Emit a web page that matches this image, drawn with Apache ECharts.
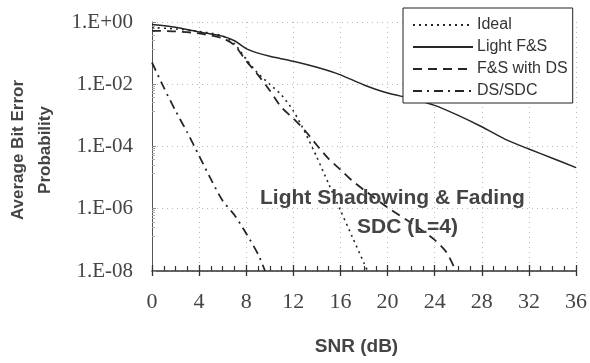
<!DOCTYPE html>
<html>
<head>
<meta charset="utf-8">
<script src="https://cdn.jsdelivr.net/npm/echarts@6/dist/echarts.min.js"></script>
<style>
  html, body { margin: 0; padding: 0; background: #fff; }
  #chart { width: 590px; height: 363px; }
</style>
</head>
<body>
<div id="chart"></div>
<script>
// SNR (dB) samples and average bit error probability for each scheme
const idealSnr = [0, 2, 4, 6, 7, 8, 9, 10, 11, 12, 13, 14, 15, 16, 17, 18, 18.3];
const idealBer = [0.66, 0.60, 0.50, 0.355, 0.20, 0.063, 0.0224, 1.0e-2, 4.5e-3, 1.4e-3, 2.8e-4, 4.5e-5, 6.3e-6, 8.9e-7, 1.26e-7, 1.8e-8, 1.0e-8];

const lightSnr = [0, 2, 4, 6, 7, 8, 9, 10, 12, 14, 16, 18, 20, 22, 24, 26, 28, 30, 32, 34, 36];
const lightBer = [0.83, 0.68, 0.48, 0.35, 0.25, 0.14, 0.10, 0.079, 0.055, 0.035, 0.020, 9.5e-3, 5.2e-3, 3.5e-3, 2.1e-3, 1.0e-3, 4.3e-4, 1.7e-4, 8.3e-5, 4.2e-5, 2.1e-5];

const dsSnr = [0, 2, 4, 6, 7, 8, 9, 10, 11, 12, 13, 14, 15, 16, 17, 18, 20, 22, 24, 25, 25.8];
const dsBer = [0.52, 0.50, 0.43, 0.30, 0.18, 0.056, 0.020, 6.3e-3, 1.8e-3, 7.9e-4, 3.2e-4, 1.1e-4, 4.0e-5, 1.8e-5, 7.9e-6, 4.0e-6, 1.1e-6, 3.5e-7, 1.0e-7, 4.0e-8, 1.0e-8];

const sdcSnr = [0, 1, 2, 3, 4, 5, 6, 7, 8, 9, 9.6];
const sdcBer = [0.05, 7.9e-3, 1.4e-3, 2.8e-4, 5.0e-5, 8.9e-6, 1.8e-6, 6.3e-7, 1.6e-7, 3.5e-8, 1.0e-8];

const seriesNames = ['Ideal', 'Light F&S', 'F&S with DS', 'DS/SDC'];
const xTicks = [0, 4, 8, 12, 16, 20, 24, 28, 32, 36];
const yTickLabels = ['1.E-08', '1.E-06', '1.E-04', '1.E-02', '1.E+00'];

const pairs = (xs, ys) => xs.map((x, i) => [x, ys[i]]);

const ink = '#262626';
const sans = '"Liberation Sans", Arial, sans-serif';
const serif = '"Liberation Serif", "Times New Roman", serif';

const chart = echarts.init(document.getElementById('chart'));

function series(name, data, dash, width) {
  return {
    name: name,
    type: 'line',
    data: data,
    symbol: 'none',
    smooth: 0.25,
    lineStyle: { color: ink, width: width, type: dash },
    itemStyle: { color: ink },
    z: 5
  };
}

const axisLineStyle = { color: '#333', width: 1.5 };

chart.setOption({
  animation: false,
  backgroundColor: '#fff',
  grid: { left: 152, right: 14, top: 22, bottom: 92, outerBoundsMode: 'none' },
  legend: {
    orient: 'vertical',
    left: 403,
    top: 8,
    itemWidth: 60,
    itemHeight: 8,
    itemGap: 6,
    padding: [9, 5, 4, 9],
    backgroundColor: '#fff',
    borderColor: '#222',
    borderWidth: 1,
    itemStyle: { opacity: 0 },
    textStyle: { fontFamily: sans, fontSize: 16, lineHeight: 13, color: '#333', padding: [0, 0, 0, -1] },
    data: seriesNames,
    z: 20
  },
  xAxis: [
    {
      type: 'value',
      min: 0, max: 36, interval: 4,
      name: 'SNR (dB)',
      nameLocation: 'middle',
      nameGap: 66,
      nameTextStyle: { fontFamily: sans, fontSize: 19, fontWeight: 'bold', color: '#444', padding: [0, 15, 0, 0] },
      axisLine: { show: true, onZero: false, lineStyle: axisLineStyle },
      axisTick: { show: true, inside: true, length: 6, lineStyle: { color: '#333', width: 1.3 } },
      minorTick: { show: true, splitNumber: 4, length: 5, lineStyle: { color: '#333', width: 1.2 } },
      axisLabel: {
        margin: 20,
        fontFamily: serif, fontSize: 22, color: '#444',
        formatter: v => (xTicks.indexOf(v) >= 0 ? String(v) : '')
      },
      splitLine: { show: true, lineStyle: { color: '#bbb', type: [1, 4], width: 1 } }
    },
    {
      // outward half of the major ticks along the bottom
      type: 'value',
      position: 'bottom',
      min: 0, max: 36, interval: 4,
      axisLine: { show: false },
      axisTick: { show: true, inside: false, length: 5, lineStyle: { color: '#333', width: 1.3 } },
      axisLabel: { show: false },
      splitLine: { show: false }
    }
  ],
  yAxis: {
    type: 'log',
    logBase: 10,
    min: 1e-8, max: 1,
    interval: 2,
    name: 'Average Bit Error\nProbability',
    nameLocation: 'middle',
    nameGap: 93,
    nameRotate: 90,
    nameTextStyle: { fontFamily: sans, fontSize: 17, fontWeight: 'bold', color: '#444', lineHeight: 27, padding: [0, 7, 0, 0] },
    axisLine: { show: true, lineStyle: { color: '#555', width: 1 } },
    axisTick: { show: true, inside: true, length: 4, lineStyle: { color: '#888' } },
    minorTick: { show: true, splitNumber: 8, length: 3, lineStyle: { color: '#aaa' } },
    axisLabel: {
      margin: 19,
      fontFamily: serif, fontSize: 21, color: '#444',
      formatter: function (v) {
        const e = Math.round(Math.log10(v));
        return yTickLabels[(e + 8) / 2] || '';
      }
    },
    splitLine: { show: true, lineStyle: { color: '#bbb', type: [1, 4], width: 1 } }
  },
  graphic: [
    {
      type: 'text',
      left: 260, top: 188,
      style: { text: 'Light Shadowing & Fading', fontFamily: sans, fontSize: 21, fontWeight: 'bold', fill: '#444' },
      z: 10
    },
    {
      type: 'text',
      left: 357, top: 217,
      style: { text: 'SDC (L=4)', fontFamily: sans, fontSize: 21, fontWeight: 'bold', fill: '#444' },
      z: 10
    }
  ],
  series: [
    series(seriesNames[0], pairs(idealSnr, idealBer), [2, 4], 1.6),
    series(seriesNames[1], pairs(lightSnr, lightBer), 'solid', 1.5),
    series(seriesNames[2], pairs(dsSnr, dsBer), [9, 6], 1.8),
    series(seriesNames[3], pairs(sdcSnr, sdcBer), [9, 5, 2, 5], 1.8)
  ]
});
</script>
</body>
</html>
